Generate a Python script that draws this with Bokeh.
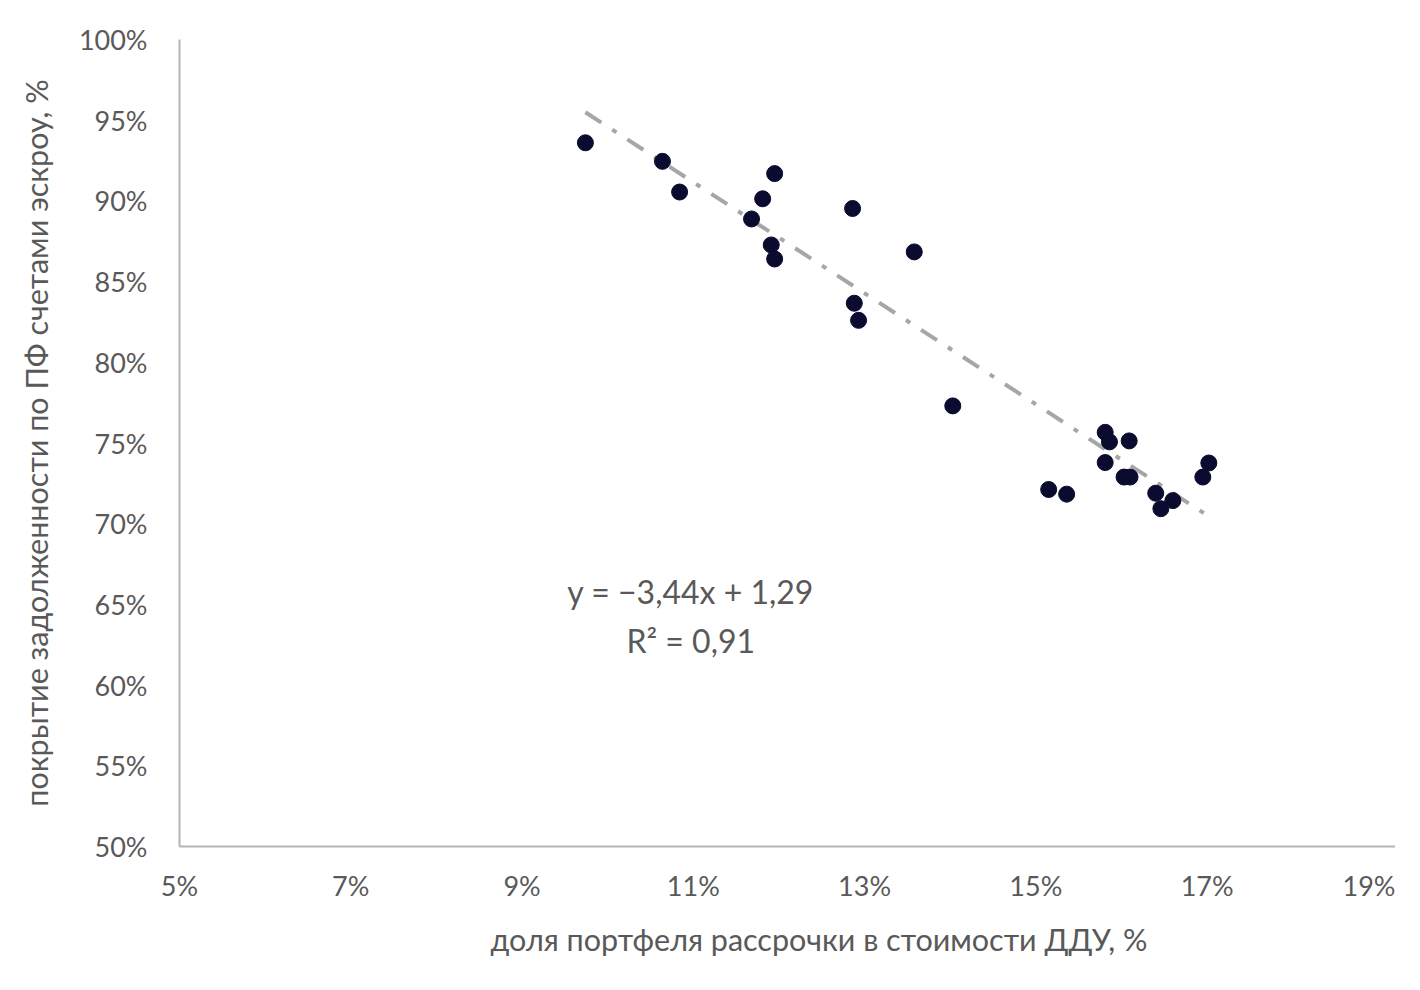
from bokeh.plotting import figure
from bokeh.models import Range1d, FixedTicker, NumeralTickFormatter, Label, Title
from bokeh.embed import file_html
from bokeh.resources import INLINE

# data: share of instalment portfolio (x) vs escrow coverage (y)
x_share = [0.0974, 0.1064, 0.1084, 0.1195, 0.1181, 0.1168, 0.1191, 0.1195,
           0.1286, 0.1358, 0.1288, 0.1293, 0.1403, 0.1515, 0.1536, 0.1581,
           0.1586, 0.1609, 0.1581, 0.1603, 0.1610, 0.1640, 0.1646, 0.1660,
           0.1695, 0.1702]
y_cover = [0.9360, 0.9245, 0.9055, 0.9169, 0.9013, 0.8888, 0.8727, 0.8640,
           0.8953, 0.8684, 0.8366, 0.8260, 0.7730, 0.7212, 0.7183, 0.7566,
           0.7507, 0.7513, 0.7379, 0.7289, 0.7289, 0.7189, 0.7093, 0.7143,
           0.7289, 0.7376]

trend_slope = -3.44
trend_intercept = 1.29
trend_x = [min(x_share), max(x_share)]
trend_y = [trend_slope * v + trend_intercept for v in trend_x]

x_ticks = [0.05, 0.07, 0.09, 0.11, 0.13, 0.15, 0.17, 0.19]
y_ticks = [0.50, 0.55, 0.60, 0.65, 0.70, 0.75, 0.80, 0.85, 0.90, 0.95, 1.00]

eq_text = "y = −3,44x + 1,29"
r2_text = "R² = 0,91"
x_title = "доля портфеля рассрочки в стоимости ДДУ, %"
y_title = "покрытие задолженности по ПФ счетами эскроу, %"

FONT = "Lato"
GREY_TXT = "#595959"
AXIS_C = "#b4b4b4"

p = figure(width=1395, height=990, output_backend="svg", toolbar_location=None,
           x_range=Range1d(0.05, 0.1920), y_range=Range1d(0.5, 1.0),
           min_border_left=179, min_border_right=0, min_border_top=39,
           min_border_bottom=144)
p.outline_line_color = None
p.grid.grid_line_color = None
p.background_fill_color = "white"
p.border_fill_color = "white"

for ax in (p.xaxis, p.yaxis):
    ax.axis_line_color = AXIS_C
    ax.axis_line_width = 2
    ax.major_tick_line_color = None
    ax.minor_tick_line_color = None
    ax.major_label_text_font = FONT
    ax.major_label_text_font_size = "27px"
    ax.major_label_text_color = GREY_TXT
    ax.formatter = NumeralTickFormatter(format="0%")

p.xaxis.ticker = FixedTicker(ticks=x_ticks)
p.yaxis.ticker = FixedTicker(ticks=y_ticks)
p.xaxis.major_label_standoff = 16
p.yaxis.major_label_standoff = 26

p.yaxis.axis_label = y_title
p.yaxis.axis_label_text_font = FONT
p.yaxis.axis_label_text_font_size = "30.5px"
p.yaxis.axis_label_text_font_style = "normal"
p.yaxis.axis_label_text_color = GREY_TXT
p.yaxis.axis_label_standoff = 22

p.line(trend_x, trend_y, line_color="#a6a6a6", line_width=4,
       line_dash="19 13 5 13", line_cap="butt")
p.scatter(x_share, y_cover, size=16, fill_color="#0a0b2e", line_color="#0a0b2e")

p.add_layout(Label(x=0.1097, y=0.6582, text=eq_text, text_font=FONT,
                   text_font_size="32px", text_color=GREY_TXT,
                   text_align="center", text_baseline="middle"))
p.add_layout(Label(x=0.1097, y=0.6278, text=r2_text, text_font=FONT,
                   text_font_size="32px", text_color=GREY_TXT,
                   text_align="center", text_baseline="middle"))

xt = Title(text=x_title, align="left", offset=311, standoff=28,
           text_font=FONT, text_font_size="30.5px", text_font_style="normal",
           text_color=GREY_TXT)
p.add_layout(xt, "below")

open("out.html", "w").write(file_html(p, INLINE))
